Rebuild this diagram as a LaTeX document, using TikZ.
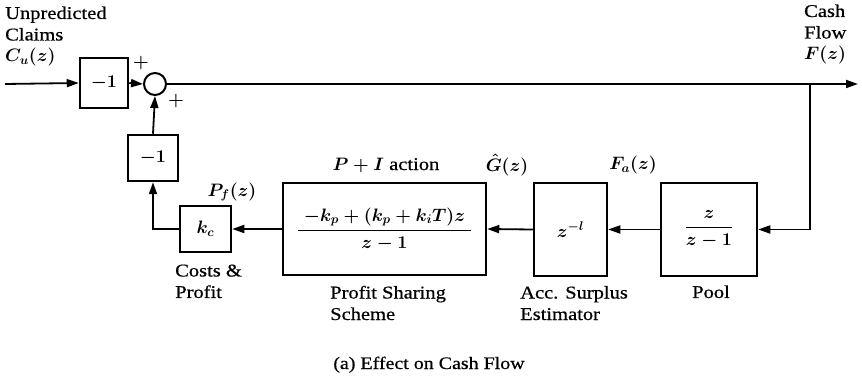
\RequirePackage{fix-cm}
\documentclass[tikz,border=0pt]{standalone}
\usepackage{amsmath}
\usepackage{fontspec}
\setmainfont{Liberation Serif}[FakeStretch=1.14,FakeBold=0.6]
\usetikzlibrary{arrows.meta}
\newcommand\figfont{\fontsize{18}{21.5}\selectfont\boldmath}
\begin{document}
\begin{tikzpicture}[x=1pt,y=-1pt,
  every node/.style={inner sep=0pt,font=\figfont},
  blk/.style args={#1x#2}{draw,line width=2.5pt,minimum width=#1,minimum height=#2},
  sumpt/.style={draw,circle,line width=2pt,minimum size=22pt},
  lbl/.style={anchor=base west,align=left},
  arr/.style={-{Triangle[length=12pt,width=8pt]},line width=1.8pt}]
\useasboundingbox (0,0) rectangle (862,379);

% blocks
\node[blk=48x50] (neg1) at (104,83) {$-1$};
\node[sumpt] (sum) at (155,84) {};
\node[blk=50x46] (neg2) at (153,158) {$-1$};
\node[blk=51x46] (kc) at (205.5,229) {$k_c$};
\node[blk=203x92] (pi) at (384.5,229)
  {$\dfrac{\hspace{6pt}-k_p+(k_p+k_iT)z\hspace{6pt}}{z-1}$};
\node[blk=73x93] (acc) at (570.5,229.5) {$z^{-l}$};
\node[blk=96x93] (pool) at (709,229.5) {$\dfrac{\hspace{4pt}z\hspace{4pt}}{z-1}$};

% signal points
\coordinate (in) at (5,84);
\coordinate (out) at (858,84);
\coordinate (tap) at (810,84);

% labels (multi-line labels are placed by the baseline of their last line)
\node[lbl] (tin) at (5,62) {Unpredicted\\Claims\\$C_u(z)$};
\node[lbl] (tout) at (804,60) {Cash\\Flow\\$F(z)$};
\node (p1) at (141,63) {$+$};
\node (p2) at (176,101) {$+$};
\node (tpf) at (232,192) {$P_f(z)$};
\node (tpi) at (386,165) {$P+I$ action};
\node (tg) at (507,165) {$\hat G(z)$};
\node (tfa) at (633,165) {$F_a(z)$};
\node[lbl] (tkc) at (175,298) {Costs \&\\Profit};
\node[lbl] (tps) at (330,320) {Profit Sharing\\Scheme};
\node[lbl] (tacc) at (520,320) {Acc. Surplus\\Estimator};
\node[anchor=base] (tpool) at (711,298) {Pool};
\node[anchor=base,font=\fontsize{17.5}{21}\selectfont] (cap) at (429,369) {(a) Effect on Cash Flow};

% connectors
\draw[arr] (in) -- (neg1.west);
\draw[arr] (neg1.east) -- (sum.west);
\draw[arr] (sum.east) -- (out);
\draw[arr] (tap) |- (pool.east);
\draw[arr] (pool.west) -- (acc.east);
\draw[arr] (acc.west) -- (pi.east);
\draw[arr] (pi.west) -- (kc.east);
\draw[arr] (kc.west) -| (neg2.south);
\draw[arr] (neg2.north) -- (sum.south);
\end{tikzpicture}
\end{document}
